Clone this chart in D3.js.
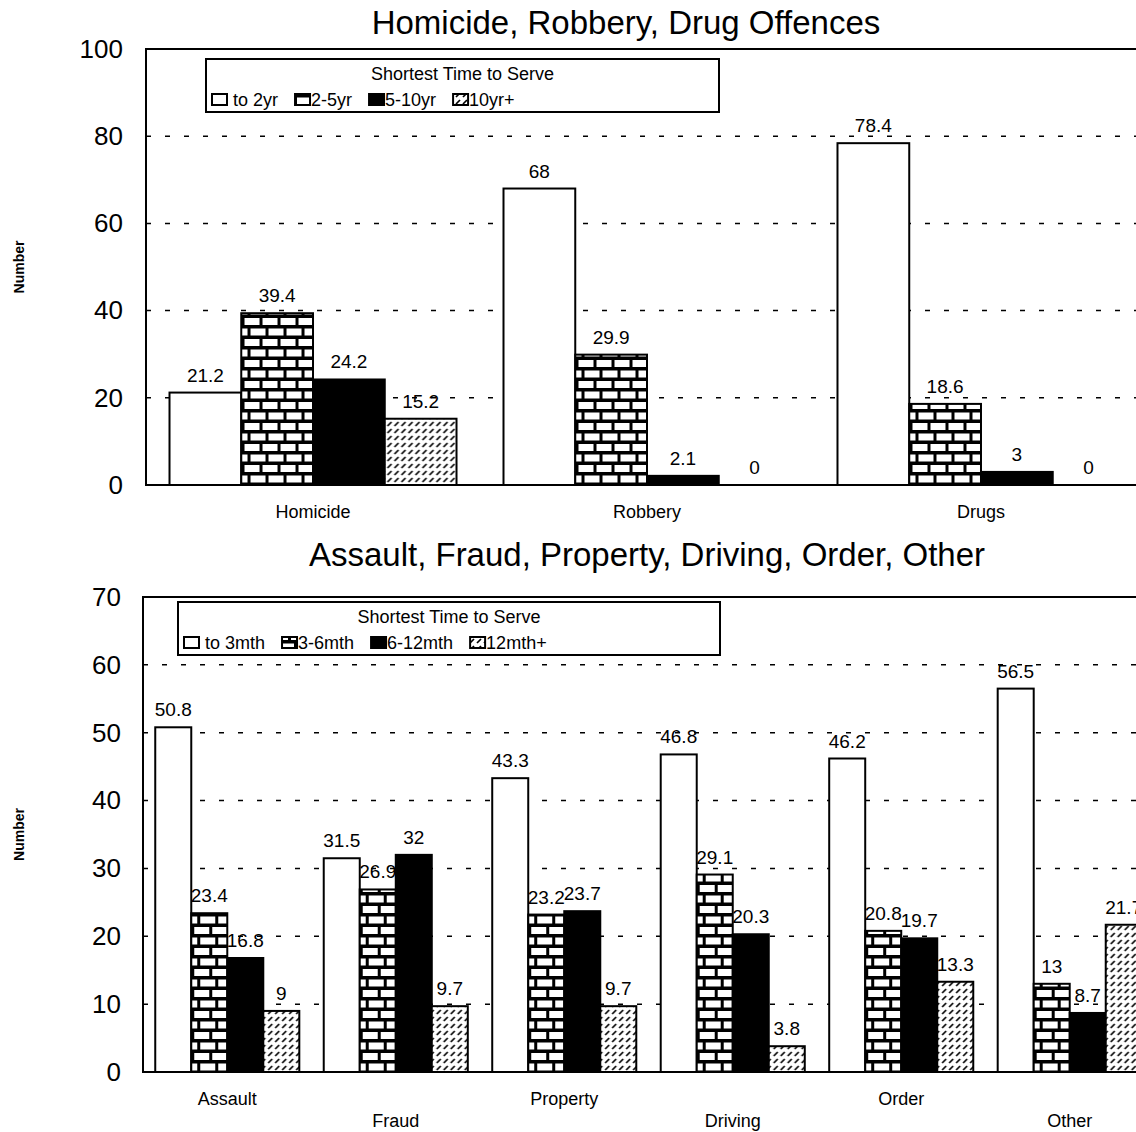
<!DOCTYPE html>
<html>
<head>
<meta charset="utf-8">
<script src="https://cdn.jsdelivr.net/npm/d3@7"></script>
<style>
  html, body { margin: 0; padding: 0; background: #fff; }
  svg { display: block; font-family: "Liberation Sans", Arial, Helvetica, sans-serif; }
</style>
</head>
<body>
<svg id="chart" width="1136" height="1132"></svg>
<script>
// ---- Data: serious offences (years) ----
const seriousCategories = ["Homicide", "Robbery", "Drugs"];
const seriousSeries = ["to 2yr", "2-5yr", "5-10yr", "10yr+"];
const seriousValues = [
  [21.2, 39.4, 24.2, 15.2],
  [68, 29.9, 2.1, 0],
  [78.4, 18.6, 3, 0]
];
const seriousTicks = [0, 20, 40, 60, 80, 100];
const seriousTitle = "Homicide, Robbery, Drug Offences";

// ---- Data: other offences (months) ----
const otherCategories = ["Assault", "Fraud", "Property", "Driving", "Order", "Other"];
const otherSeries = ["to 3mth", "3-6mth", "6-12mth", "12mth+"];
const otherValues = [
  [50.8, 23.4, 16.8, 9],
  [31.5, 26.9, 32, 9.7],
  [43.3, 23.2, 23.7, 9.7],
  [46.8, 29.1, 20.3, 3.8],
  [46.2, 20.8, 19.7, 13.3],
  [56.5, 13, 8.7, 21.7]
];
const otherTicks = [0, 10, 20, 30, 40, 50, 60, 70];
const otherTitle = "Assault, Fraud, Property, Driving, Order, Other";

const legendTitle = "Shortest Time to Serve";
const yAxisLabel = "Number";

const svg = d3.select("#chart");
const defs = svg.append("defs");

// Brick fill
const brick = defs.append("pattern").attr("id", "brick")
  .attr("patternUnits", "userSpaceOnUse").attr("width", 18).attr("height", 21);
brick.append("rect").attr("width", 18).attr("height", 21).attr("fill", "#000");
brick.append("rect").attr("x", 3).attr("y", 3).attr("width", 15).attr("height", 7).attr("fill", "#fff");
brick.append("rect").attr("x", 0).attr("y", 13.5).attr("width", 6).attr("height", 7).attr("fill", "#fff");
brick.append("rect").attr("x", 9).attr("y", 13.5).attr("width", 9).attr("height", 7).attr("fill", "#fff");

// Dashed diagonal hatch fill
const hatch = defs.append("pattern").attr("id", "hatch")
  .attr("patternUnits", "userSpaceOnUse").attr("width", 7).attr("height", 7);
hatch.append("rect").attr("width", 7).attr("height", 7).attr("fill", "#fff");
hatch.append("line").attr("x1", 1).attr("y1", 6).attr("x2", 5).attr("y2", 2)
  .attr("stroke", "#000").attr("stroke-width", 1.7);

const fills = ["#fff", "url(#brick)", "#000", "url(#hatch)"];

function drawPanel(cfg) {
  const { categories, series, values, ticks, title, lay } = cfg;
  const g = svg.append("g");

  const y = d3.scaleLinear().domain([0, ticks[ticks.length - 1]]).range([lay.bottom, lay.top]);
  const x0 = d3.scaleBand().domain(categories).range([lay.left, lay.right])
    .paddingInner(lay.padIn).paddingOuter(lay.padOut);
  const x1 = d3.scaleBand().domain(series).range([0, x0.bandwidth()]).padding(0);

  // Title
  g.append("text").attr("x", lay.titleX).attr("y", lay.titleY)
    .attr("text-anchor", "middle").attr("font-size", 33).text(title);

  // Dashed gridlines
  g.append("g").selectAll("line")
    .data(ticks.slice(1, -1)).join("line")
    .attr("x1", lay.left).attr("x2", lay.right)
    .attr("y1", d => y(d)).attr("y2", d => y(d))
    .attr("stroke", "#000").attr("stroke-width", 1.5).attr("stroke-dasharray", "5,14");

  // Y axis labels
  const yAxis = g.append("g").attr("transform", `translate(${lay.left},0)`)
    .call(d3.axisLeft(y).tickValues(ticks).tickSize(0).tickPadding(lay.tickPad).tickFormat(d3.format("d")));
  yAxis.select(".domain").remove();
  yAxis.selectAll("text").attr("font-size", 26).attr("fill", "#000")
    .attr("font-family", "Liberation Sans, Arial, sans-serif");

  // Y axis title
  g.append("text")
    .attr("transform", `translate(${lay.ylabX},${(lay.top + lay.bottom) / 2}) rotate(-90)`)
    .attr("text-anchor", "middle").attr("dominant-baseline", "middle")
    .attr("font-size", 14).attr("font-weight", "bold").text(yAxisLabel);

  // Bars
  const groups = g.append("g").selectAll("g")
    .data(categories.map((c, i) => ({ c, vals: values[i] }))).join("g")
    .attr("transform", d => `translate(${x0(d.c)},0)`);

  groups.selectAll("rect")
    .data(d => d.vals.map((v, j) => ({ key: series[j], v, j }))).join("rect")
    .filter(d => d.v > 0)
    .attr("x", d => x1(d.key)).attr("width", x1.bandwidth())
    .attr("y", d => y(d.v)).attr("height", d => y(0) - y(d.v))
    .attr("fill", d => fills[d.j]).attr("stroke", "#000").attr("stroke-width", 2);

  // Value labels
  groups.selectAll("text")
    .data(d => d.vals.map((v, j) => ({ key: series[j], v }))).join("text")
    .attr("x", d => x1(d.key) + x1.bandwidth() / 2)
    .attr("y", d => y(d.v) - 11)
    .attr("text-anchor", "middle").attr("font-size", 19).text(d => d.v);

  // Frame: top, left, bottom
  g.append("path")
    .attr("d", `M${lay.right},${lay.top}H${lay.left}V${lay.bottom}H${lay.right}`)
    .attr("fill", "none").attr("stroke", "#000").attr("stroke-width", 2);

  // Category labels (alternating rows when crowded)
  g.append("g").selectAll("text").data(categories).join("text")
    .attr("x", d => x0(d) + x0.bandwidth() / 2)
    .attr("y", (d, i) => lay.catY[i % lay.catY.length])
    .attr("text-anchor", "middle").attr("font-size", 18).text(d => d);

  // Legend
  const lg = g.append("g");
  lg.append("rect").attr("x", lay.legX).attr("y", lay.legY)
    .attr("width", lay.legW).attr("height", 53)
    .attr("fill", "#fff").attr("stroke", "#000").attr("stroke-width", 2);
  lg.append("text").attr("x", lay.legX + lay.legW / 2).attr("y", lay.legY + 21)
    .attr("text-anchor", "middle").attr("font-size", 18).text(legendTitle);
  let cx = lay.legX + 6;
  series.forEach((s, j) => {
    lg.append("rect").attr("x", cx).attr("y", lay.legY + 35)
      .attr("width", 15).attr("height", 11)
      .attr("fill", fills[j]).attr("stroke", "#000").attr("stroke-width", 2);
    cx += 15 + (j === 0 ? 6 : 1);
    const t = lg.append("text").attr("x", cx).attr("y", lay.legY + 47)
      .attr("font-size", 18).text(s);
    cx += t.node().getComputedTextLength() + 17;
  });
}

drawPanel({
  categories: seriousCategories, series: seriousSeries, values: seriousValues,
  ticks: seriousTicks, title: seriousTitle,
  lay: { left: 146, right: 1148, top: 49, bottom: 485, padIn: 0.1407, padOut: 0.0704,
         tickPad: 23, titleX: 626, titleY: 34, ylabX: 20, catY: [518],
         legX: 206, legY: 59, legW: 513 }
});

drawPanel({
  categories: otherCategories, series: otherSeries, values: otherValues,
  ticks: otherTicks, title: otherTitle,
  lay: { left: 143, right: 1154, top: 597, bottom: 1072, padIn: 0.145, padOut: 0.0727,
         tickPad: 22, titleX: 647, titleY: 566, ylabX: 20, catY: [1105, 1127],
         legX: 178, legY: 602, legW: 542 }
});
</script>
</body>
</html>
